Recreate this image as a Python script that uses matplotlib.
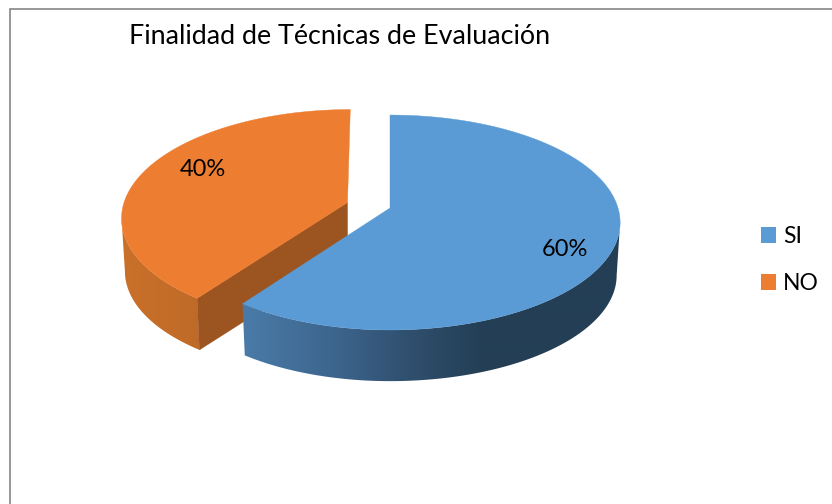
import numpy as np
import matplotlib
matplotlib.use("Agg")
import matplotlib.pyplot as plt
from matplotlib.colors import LinearSegmentedColormap
from matplotlib.patches import Patch, Polygon

title = "Finalidad de Técnicas de Evaluación"
categories = ["SI", "NO"]
values = [60, 40]
labels = ["60%", "40%"]
top_colors = ["#5B9BD5", "#ED7D31"]

plt.rcParams["font.family"] = ["Lato", "DejaVu Sans"]
fig = plt.figure(figsize=(8.32, 5.04), dpi=100, facecolor="white")
ax = fig.add_axes([0, 0, 1, 1])
ax.axis("off")

RX, A, K, DEPTH, SHR, LEFT = 228.0, 105.5, 0.135, 53.0, 0.985, 0.98
_order = [1.0]


def next_z():
    _order[0] += 0.01
    return _order[0]


def rim(theta, shear):
    u, v = np.sin(theta), -np.cos(theta)
    # v is positive toward the viewer (theta = pi is the front)
    d = 1 - K * v
    x = RX * u / d
    y = A * v / d
    return np.where(x < 0, x * LEFT, x) + shear * y, y


def top_ring(c, th, shear):
    x, y = rim(th, shear)
    return c[0] + x, c[1] + y


def low_ring(c, th, shear):
    x, y = rim(th, shear)
    return c[0] + SHR * x, c[1] + SHR * y + DEPTH


def walls(c, t0, t1, cmap, shear):
    full = np.linspace(0, 2 * np.pi, 3601)
    xf, _ = rim(full, shear)
    t_right, t_left = full[np.argmax(xf)], full[np.argmin(xf)]
    th = np.linspace(max(t0, t_right), min(t1, t_left), 400)
    xt, yt = top_ring(c, th, shear)
    xb, yb = low_ring(c, th, shear)
    outline = np.c_[np.r_[xt, xb[::-1]], np.r_[yt, yb[::-1]]]
    clip = Polygon(outline, closed=True, facecolor="none", edgecolor="none", transform=ax.transData)
    ax.add_patch(clip)
    grad = np.linspace(0, 1, 530).reshape(1, -1)
    im = ax.imshow(grad, extent=(100, 630, 400, 100), cmap=cmap, vmin=0, vmax=1,
                   aspect="auto", interpolation="bilinear", zorder=next_z())
    im.set_clip_path(clip)


def top_face(c, t0, t1, color, shear):
    th = np.linspace(t0, t1, 300)
    xt, yt = top_ring(c, th, shear)
    ax.fill(np.r_[c[0], xt], np.r_[c[1], yt], color=color, lw=0.3, zorder=next_z())


blue_map = LinearSegmentedColormap.from_list(
    "b", [(0, "#4F82B0"), (0.27, "#4A7BA8"), (0.45, "#3C648C"), (0.58, "#30506F"),
          (0.72, "#243F55"), (1, "#243F55")])
orange_map = LinearSegmentedColormap.from_list(
    "o", [(0, "#CC722B"), (0.2, "#BE6A28"), (1, "#B86526")])

shares = np.array(values, dtype=float) / sum(values)
ends = np.cumsum(shares) * 2 * np.pi
b0, b1 = 0.0, ends[0]
o0, o1 = ends[0], ends[1]
bc = (390.0, 208.0)
oc = (347.5, 202.5)
o_shear = -0.03

# exploded orange slice
walls(oc, o0, o1, orange_map, o_shear)
xc, yc = top_ring(oc, o0, o_shear)
xl, yl = low_ring(oc, o0, o_shear)
ax.fill([oc[0], xc, xl, oc[0]], [oc[1], yc, yl, oc[1] + DEPTH], color="#9C5420", lw=0.3,
        zorder=next_z())
top_face(oc, o0, o1, top_colors[1], o_shear)

# blue slice
ax.plot([bc[0], bc[0]], [116, 208], color="#4A7BA8", lw=0.7, zorder=next_z())
walls(bc, b0, b1, blue_map, 0.0)
top_face(bc, b0, b1, top_colors[0], 0.0)

ax.text(565, 250, labels[0], fontsize=17, ha="center", va="center", color="black", zorder=10)
ax.text(203, 169, labels[1], fontsize=17, ha="center", va="center", color="black", zorder=10)

ax.text(340, 37, title, fontsize=19.4, ha="center", va="center", color="black", zorder=10)

handles = [Patch(facecolor=c, edgecolor="none") for c in top_colors]
ax.legend(handles, categories, loc="center left", bbox_to_anchor=(761, 260),
          bbox_transform=ax.transData, frameon=False, fontsize=16.5,
          handlelength=0.66, handleheight=0.66, handletextpad=0.3,
          labelspacing=1.15, borderpad=0, borderaxespad=0)

ax.plot([9.5, 9.5, 832], [504, 8.5, 8.5], color="#858585", lw=1.2, solid_joinstyle="miter", zorder=10)

ax.set_xlim(0, 832)
ax.set_ylim(504, 0)
fig.savefig("out.png", dpi=100, facecolor="white")
